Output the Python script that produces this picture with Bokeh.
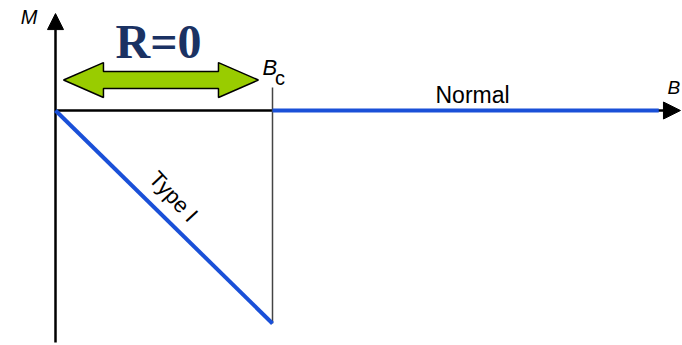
import math
from bokeh.plotting import figure
from bokeh.models import Range1d, Arrow, NormalHead
from bokeh.core.properties import value
from bokeh.embed import file_html
from bokeh.resources import INLINE

# ---- data ----
B_c = 1.0
type1_B = [0.0, 1.0]
type1_M = [0.0, -1.0]
normal_B = [1.0, 2.78]
normal_M = [0.0, 0.0]
axis_B_end = 2.88
axis_M_end = 0.455
axis_M_start = -1.089
labels = ["M", "R=0", "B", "c", "Normal", "B", "Type I"]

W, H = 682, 345
p = figure(width=W, height=H, output_backend="svg", toolbar_location=None,
           x_range=Range1d(-55 / 217, 627 / 217), y_range=Range1d(-235 / 213, 110 / 213),
           min_border=0, outline_line_color=None)
p.axis.visible = False
p.grid.visible = False
p.background_fill_color = "white"
p.border_fill_color = "white"

BLUE = "#1a50d8"

# M axis with arrow
p.add_layout(Arrow(end=NormalHead(size=16, fill_color="black", line_color="black"),
                   x_start=0, y_start=axis_M_start, x_end=0, y_end=axis_M_end,
                   line_color="black", line_width=2.5, level="underlay"))
# B axis with arrow
p.add_layout(Arrow(end=NormalHead(size=17, fill_color="black", line_color="black"),
                   x_start=0, y_start=0, x_end=axis_B_end, y_end=0,
                   line_color="black", line_width=2.5, level="underlay"))

# Bc vertical marker
p.line([B_c, B_c], [type1_M[-1], 0.108], line_color="#444444", line_width=1.5)

# curves
p.line(type1_B, type1_M, line_color=BLUE, line_width=4)
p.line(normal_B, normal_M, line_color=BLUE, line_width=4)

# green double arrow spanning 0..Bc
xl, xbl, xbr, xr = 0.037 * B_c, 0.221 * B_c, 0.751 * B_c, 0.935 * B_c
yc, hh, sh = 0.143, 0.082, 0.040
p.patch([xl, xbl, xbl, xbr, xbr, xr, xbr, xbr, xbl, xbl],
        [yc, yc + hh, yc + sh, yc + sh, yc + hh, yc, yc - hh, yc - sh, yc - sh, yc - hh],
        fill_color="#99cc00", line_color="black", line_width=1.5)

SANS = value("Liberation Sans")
p.text(x=[-0.083], y=[0.437], text=[labels[0]], text_font=SANS, text_font_size="20px",
       text_font_style="italic", text_align="right", text_baseline="middle", text_color="black")
p.text(x=[0.475], y=[0.324], text=[labels[1]], text_font=value("Liberation Serif"),
       text_font_size="48px", text_font_style="bold", text_align="center",
       text_baseline="middle", text_color="#1b3263")
p.text(x=[0.954], y=[0.204], text=[labels[2]], text_font=SANS, text_font_size="22px",
       text_font_style="italic", text_align="left", text_baseline="middle", text_color="black")
p.text(x=[1.012], y=[0.153], text=[labels[3]], text_font=SANS, text_font_size="20px",
       text_align="left", text_baseline="middle", text_color="black")
p.text(x=[1.922], y=[0.075], text=[labels[4]], text_font=SANS, text_font_size="23px",
       text_align="center", text_baseline="middle", text_color="black")
p.text(x=[2.82], y=[0.110], text=[labels[5]], text_font=SANS, text_font_size="19px",
       text_font_style="italic", text_align="left", text_baseline="middle", text_color="black")
p.text(x=[0.544], y=[-0.404], text=[labels[6]], text_font=SANS, text_font_size="22px",
       angle=-47 * math.pi / 180, text_align="center", text_baseline="middle", text_color="black")

open("out.html", "w").write(file_html(p, INLINE))
